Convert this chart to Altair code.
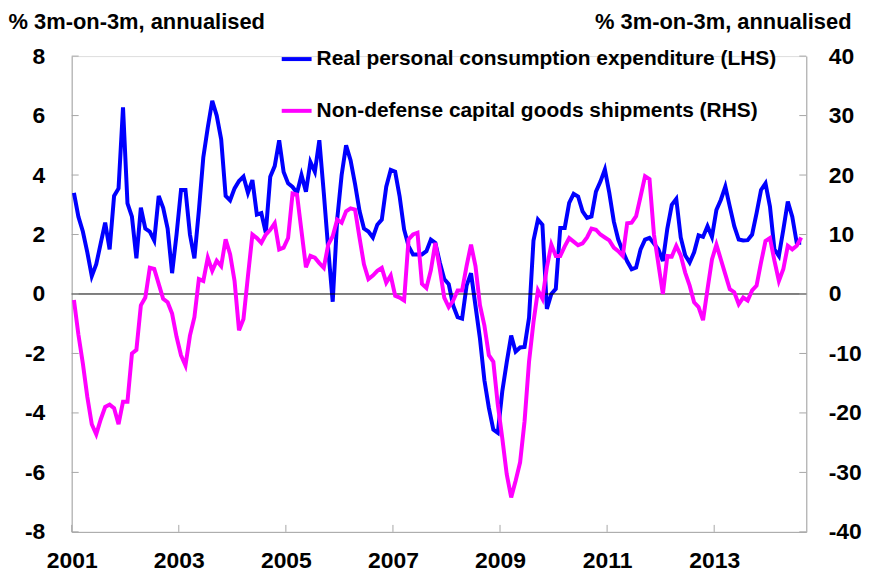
import altair as alt
import pandas as pd

# Monthly data, Jan 2001 .. Aug 2014
pce = [3.4, 2.6, 2.1, 1.4, 0.6, 1.0, 1.7, 2.4, 1.5, 3.3, 3.55, 6.28,
       3.05, 2.6, 1.2, 2.9, 2.2, 2.1, 1.8, 3.3, 2.9, 2.2, 0.7, 2.0,
       3.5, 3.5, 2.0, 1.2, 2.8, 4.6, 5.6, 6.5, 6.0, 5.2, 3.3, 3.15,
       3.55, 3.8, 3.95, 3.4, 3.83, 2.67, 2.72, 2.06, 3.94, 4.3, 5.17, 4.1,
       3.72, 3.6, 3.4, 4.0, 3.44, 4.44, 4.11, 5.17, 3.4, 1.5, -0.26, 2.5,
       4.0, 5.0, 4.5, 3.7, 2.8, 2.2, 2.1, 1.9, 2.33, 2.5, 3.61, 4.17,
       4.11, 3.28, 2.17, 1.61, 1.33, 1.33, 1.33, 1.44, 1.83, 1.72, 1.06, 0.5,
       0.33, -0.39, -0.78, -0.83, 0.28, 0.7, -0.4, -1.5, -2.9, -3.83, -4.56, -4.67,
       -3.28, -2.3, -1.4, -1.94, -1.8, -1.78, -0.8, 1.8, 2.5, 2.33, -0.5, 0.0,
       0.17, 2.22, 2.22, 3.06, 3.37, 3.28, 2.78, 2.56, 2.61, 3.44, 3.78, 4.19,
       3.39, 2.44, 1.83, 1.44, 1.1, 0.83, 0.89, 1.5, 1.83, 1.89, 1.7, 1.5,
       1.11, 2.2, 3.0, 3.2, 1.9, 1.3, 1.06, 1.4, 1.97, 1.92, 2.28, 1.92,
       2.83, 3.17, 3.61, 2.94, 2.28, 1.83, 1.8, 1.81, 2.0, 2.72, 3.5, 3.72,
       2.94, 1.5, 1.28, 2.17, 3.11, 2.6, 1.72, 1.72]

capex = [-1.0, -6.8, -11.7, -17.3, -21.9, -23.6, -21.1, -19.0, -18.6, -19.2, -21.9, -18.1,
         -18.1, -10.0, -9.4, -1.9, -0.6, 4.4, 4.2, 1.7, -0.8, -1.4, -3.3, -7.2,
         -10.3, -12.0, -7.0, -3.9, 2.5, 2.2, 6.1, 3.9, 5.6, 4.7, 9.2, 6.7,
         2.2, -6.1, -4.2, 3.0, 10.0, 9.4, 8.6, 10.0, 10.8, 11.9, 7.5, 7.8,
         9.4, 16.9, 16.7, 10.6, 4.5, 6.4, 6.1, 5.2, 4.4, 8.3, 9.7, 12.5,
         12.0, 13.9, 14.4, 14.2, 9.5, 5.0, 2.5, 3.1, 3.9, 4.4, 1.9, 3.1,
         -0.3, -0.6, -1.1, 9.2, 10.0, 10.3, 1.7, 1.0, 4.0, 8.6, 4.2, -0.6,
         -2.2, -1.1, 0.6, 0.6, 4.7, 8.3, 4.7, -1.9, -5.3, -10.3, -11.4, -18.6,
         -24.2, -30.3, -34.2, -31.4, -28.3, -21.4, -11.4, -4.7, 0.6, -0.8, 4.5, 8.3,
         6.4, 6.4, 8.0, 9.4, 8.8, 8.2, 8.5, 9.5, 11.0, 10.8, 10.0, 9.5,
         9.0, 7.8, 7.2, 6.4, 11.9, 12.0, 13.1, 16.4, 19.8, 19.3, 10.0, 5.0,
         0.0, 6.4, 6.3, 8.1, 6.5, 3.6, 1.4, -1.4, -2.2, -4.4, 0.8, 5.8,
         8.3, 5.8, 3.3, 0.8, 0.3, -1.7, -0.6, -1.1, 0.6, 1.4, 5.3, 8.9,
         9.4, 5.6, 2.2, 4.2, 8.1, 7.5, 8.1, 9.5]

series_names = ["Real personal consumption expenditure (LHS)",
                "Non-defense capital goods shipments (RHS)"]
series_colors = ["#0000FF", "#FF00FF"]
year_ticks = [2001, 2003, 2005, 2007, 2009, 2011, 2013]
lhs_ticks = [-8, -6, -4, -2, 0, 2, 4, 6, 8]
rhs_ticks = [-40, -30, -20, -10, 0, 10, 20, 30, 40]
axis_title = "% 3m-on-3m, annualised"

FONT = "Liberation Sans"
W, H = 738, 478
HYPHEN_LABEL = "(datum.value < 0 ? '-' : '') + abs(datum.value)"

t = [2001 + (k + 0.5) / 12 for k in range(len(pce))]
df = pd.DataFrame({
    "t": t * 2,
    "series": [series_names[0]] * len(pce) + [series_names[1]] * len(capex),
    "value": pce + capex,
})

xscale = alt.Scale(domain=[2001, 2014.72], nice=False, zero=False)
lscale = alt.Scale(domain=[-8, 8], nice=False)
rscale = alt.Scale(domain=[-40, 40], nice=False)
cscale = alt.Scale(domain=series_names, range=series_colors)

x_axis = alt.Axis(
    values=year_ticks, format="d", title=None, grid=False, ticks=False, tickSize=0,
    labelFontSize=23, labelFont=FONT, labelFontWeight="bold", labelColor="black",
    labelPadding=18, domainColor="#a6a6a6", labelFlush=False)

l_axis = alt.Axis(
    values=lhs_ticks, labelExpr=HYPHEN_LABEL, title=axis_title, titleAngle=0,
    titleAlign="left", titleBaseline="middle", titleX=-64, titleY=-35,
    titleFontSize=22, titleFont=FONT, titleFontWeight="bold", titleColor="black",
    grid=False, ticks=False, tickSize=0, labelFontSize=23, labelFont=FONT,
    labelFontWeight="bold", labelColor="black", labelPadding=27,
    domainColor="#a6a6a6")

r_axis = alt.Axis(
    values=rhs_ticks, labelExpr=HYPHEN_LABEL, orient="right", title=axis_title,
    titleAngle=0, titleAlign="right", titleBaseline="middle", titleX=45, titleY=-35,
    titleFontSize=22, titleFont=FONT, titleFontWeight="bold", titleColor="black",
    grid=False, ticks=False, tickSize=0, labelFontSize=23, labelFont=FONT,
    labelFontWeight="bold", labelColor="black", labelPadding=22,
    domainColor="#a6a6a6")

color_enc = alt.Color("series:N", scale=cscale, sort=series_names, legend=alt.Legend(
    title=None, orient="none", legendX=209, legendY=-14, direction="vertical",
    symbolType="stroke", symbolStrokeWidth=4, symbolSize=900,
    labelFontSize=21, labelFont=FONT, labelFontWeight="bold", labelColor="black",
    labelOffset=3, rowPadding=25, labelLimit=700))

base = alt.Chart(df)

blue = base.transform_filter(alt.datum.series == series_names[0]).mark_line(
    strokeWidth=4).encode(
    x=alt.X("t:Q", scale=xscale, axis=x_axis),
    y=alt.Y("value:Q", scale=lscale, axis=l_axis),
    color=color_enc)

zero = alt.Chart(pd.DataFrame({"v": [0]})).mark_rule(color="black", strokeWidth=1).encode(
    y=alt.Y("v:Q", scale=lscale, axis=l_axis), x=alt.value(0), x2=alt.value(W))

ltick = alt.Chart(pd.DataFrame({"v": lhs_ticks})).mark_rule(color="#a6a6a6").encode(
    y=alt.Y("v:Q", scale=lscale, axis=l_axis), x=alt.value(0), x2=alt.value(7))
rtick = alt.Chart(pd.DataFrame({"v": lhs_ticks})).mark_rule(color="#a6a6a6").encode(
    y=alt.Y("v:Q", scale=lscale, axis=l_axis), x=alt.value(W - 7), x2=alt.value(W))
xtick = alt.Chart(pd.DataFrame({"yr": year_ticks})).mark_rule(color="#a6a6a6").encode(
    x=alt.X("yr:Q", scale=xscale, axis=x_axis), y=alt.value(H - 7), y2=alt.value(H))

left = alt.layer(blue, zero, ltick, rtick, xtick)

magenta = base.transform_filter(alt.datum.series == series_names[1]).mark_line(
    strokeWidth=4).encode(
    x=alt.X("t:Q", scale=xscale, axis=x_axis),
    y=alt.Y("value:Q", scale=rscale, axis=r_axis),
    color=color_enc)

chart = alt.layer(left, magenta).resolve_scale(y="independent").properties(
    width=W, height=H,
    autosize=alt.AutoSizeParams(type="none"),
    padding={"left": 64, "top": 47, "right": 60, "bottom": 42},
).configure_view(stroke=None).configure(background="white")

chart.save("out.html", embed_options={"renderer": "svg", "actions": False})
